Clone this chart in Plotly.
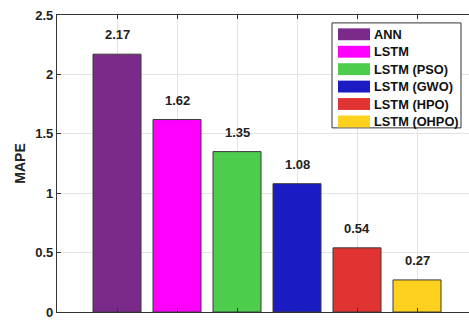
import plotly.graph_objects as go

# Model comparison: mean absolute percentage error
models = ["ANN", "LSTM", "LSTM (PSO)", "LSTM (GWO)", "LSTM (HPO)", "LSTM (OHPO)"]
mape = [2.17, 1.62, 1.35, 1.08, 0.54, 0.27]
colors = ["#7B2A8C", "#FF00FF", "#4ECC4E", "#1B1BC4", "#E23333", "#FFD11F"]
y_ticks = [0, 0.5, 1, 1.5, 2, 2.5]
y_tick_text = ["0", "0.5", "1", "1.5", "2", "2.5"]

positions = list(range(1, len(models) + 1))
font_family = "Liberation Sans, Arial, sans-serif"

fig = go.Figure()
fig.add_trace(go.Bar(
    x=positions,
    y=mape,
    width=0.8,
    marker=dict(color=colors, line=dict(color="#3a3a3a", width=1)),
    showlegend=False,
    hoverinfo="skip",
))

# Value labels above each bar
for xpos, val in zip(positions, mape):
    fig.add_annotation(
        x=xpos, y=val, text=f"<b>{val:.2f}</b>", showarrow=False,
        yanchor="bottom", yshift=10,
        font=dict(family=font_family, size=13, color="#222"),
    )

# Boxed legend with wide colour swatches (paper coordinates)
L, T = 57, 15          # plot-area pixel origin (left, top)
PW, PH = 412, 300      # plot-area size in pixels


def px_x(p):
    return (p - L) / PW


def px_y(p):
    return (T + PH - p) / PH


fig.add_shape(type="rect", xref="paper", yref="paper",
              x0=px_x(332), x1=px_x(461), y0=px_y(129), y1=px_y(23),
              fillcolor="white", line=dict(color="#333", width=1), layer="above")
row0, step = 34.5, 17.6
for i, (name, col) in enumerate(zip(models, colors)):
    cy = row0 + i * step
    fig.add_shape(type="rect", xref="paper", yref="paper",
                  x0=px_x(338), x1=px_x(370), y0=px_y(cy + 6), y1=px_y(cy - 6),
                  fillcolor=col, line=dict(width=0), layer="above")
    fig.add_annotation(xref="paper", yref="paper", x=px_x(372), y=px_y(cy),
                       text=f"<b>{name}</b>", showarrow=False,
                       xanchor="left", yanchor="middle",
                       font=dict(family=font_family, size=12.8, color="#111"))

fig.update_layout(
    width=469, height=320,
    margin=dict(l=L, r=0, t=T, b=320 - T - PH),
    plot_bgcolor="white", paper_bgcolor="white",
    bargap=0.2,
    font=dict(family=font_family, size=12, color="#222"),
)
fig.update_xaxes(
    range=[0, PW / 60.0],
    tickvals=positions, showticklabels=False,
    showgrid=True, gridcolor="#e3e3e3", gridwidth=1,
    showline=True, linecolor="#333", linewidth=1.2, mirror="allticks",
    ticks="inside", ticklen=4, tickcolor="#333",
    zeroline=False,
)
fig.update_yaxes(
    range=[0, 2.5],
    tickvals=y_ticks, ticktext=[f"<b>{t}</b>" for t in y_tick_text],
    tickfont=dict(family=font_family, size=13, color="#222"),
    ticklabeloverflow="allow",
    showgrid=True, gridcolor="#e3e3e3", gridwidth=1,
    showline=True, linecolor="#333", linewidth=1.2,
    ticks="inside", ticklen=4, tickcolor="#333",
    zeroline=False,
    title=dict(text="<b>MAPE</b>", font=dict(family=font_family, size=14, color="#222"),
               standoff=6),
)

fig.write_html("out.html")
